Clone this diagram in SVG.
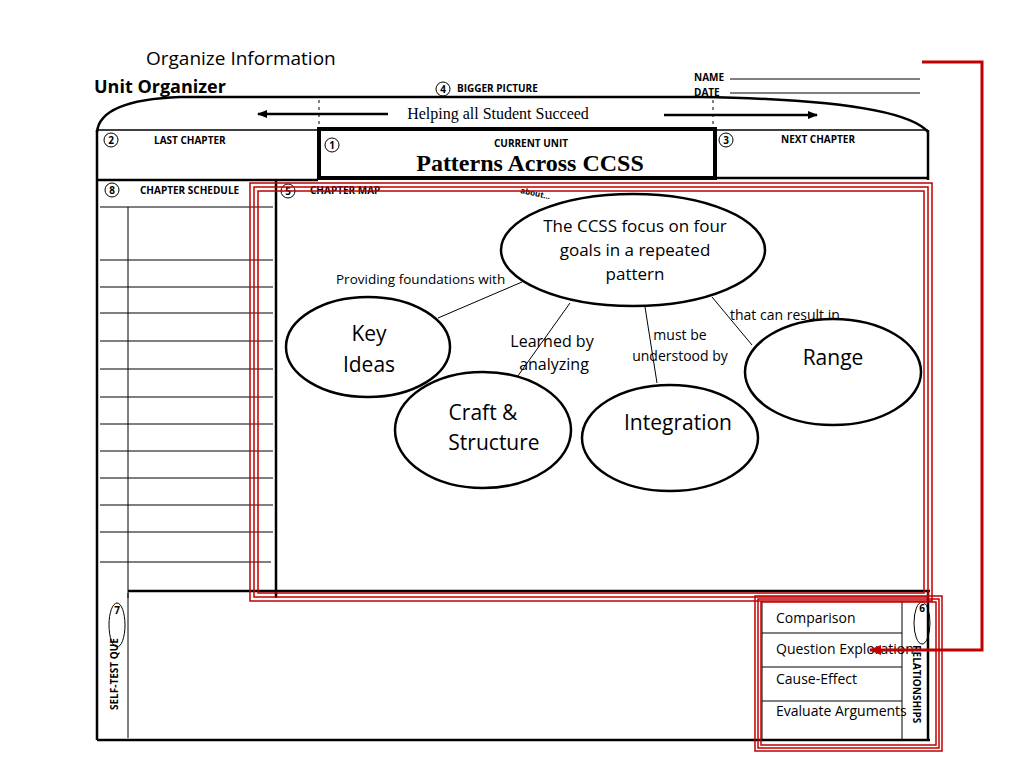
<svg xmlns="http://www.w3.org/2000/svg" width="1024" height="768" viewBox="0 0 1024 768">
<defs>
<style>
.s{font-family:"Open Sans","Liberation Sans",sans-serif;}
.b{font-family:"Open Sans","Liberation Sans",sans-serif;font-weight:bold;font-size:10px;}
.t{font-family:"Liberation Serif",serif;}
.ln{stroke:#000;stroke-width:1.5;fill:none;}
.th{stroke:#000;stroke-width:2.5;fill:none;}
.el{fill:#fff;stroke:#000;stroke-width:2.5;}
.red{fill:none;stroke:#c00000;stroke-width:1.5;}
.cn{stroke:#000;stroke-width:1;fill:none;}
</style>
<marker id="ah" markerWidth="10" markerHeight="8" refX="9" refY="4" orient="auto" markerUnits="userSpaceOnUse"><path d="M0,0 L10,4 L0,8z" fill="#000"/></marker>
<marker id="rh" markerWidth="12" markerHeight="10" refX="11" refY="5" orient="auto" markerUnits="userSpaceOnUse"><path d="M0,0 L12,5 L0,10z" fill="#c00000"/></marker>
</defs>
<rect width="1024" height="768" fill="#fff"/>
<g id="header">
<text x="146" y="65" class="s" font-size="19">Organize Information</text>
<text x="94" y="93" class="s" font-size="18" font-weight="bold">Unit Organizer</text>
<circle cx="443" cy="89" r="7" class="cn"/><text x="443" y="93" class="b" font-size="9" text-anchor="middle">4</text>
<text x="457" y="92" class="b" font-size="9">BIGGER PICTURE</text>
<text x="694" y="81" class="b" font-size="9">NAME</text>
<text x="694" y="96" class="b" font-size="9">DATE</text>
<line x1="730" y1="79" x2="920" y2="79" class="cn"/>
<line x1="730" y1="93" x2="920" y2="93" class="cn"/>
</g>
<g id="frame">
<path d="M97,132 Q100,100 180,97 L700,97 Q900,100 928,132" class="th"/>
<line x1="97" y1="130" x2="928" y2="130" class="ln"/>
<line x1="97" y1="130" x2="97" y2="740" class="th"/>
<line x1="928" y1="130" x2="928" y2="180" class="th"/>
<line x1="716" y1="178" x2="928" y2="178" class="th"/>
<line x1="97" y1="180" x2="318" y2="180" class="th"/>
<line x1="97" y1="740" x2="930" y2="740" class="th"/>
<line x1="128" y1="591" x2="930" y2="591" class="th"/>
<line x1="928" y1="591" x2="928" y2="740" class="th"/>
<line x1="276" y1="180" x2="276" y2="598" class="th"/>
<line x1="319" y1="100" x2="319" y2="128" stroke="#000" stroke-dasharray="3,4"/>
<line x1="713" y1="100" x2="713" y2="128" stroke="#000" stroke-dasharray="3,4"/>
<line x1="388" y1="114" x2="258" y2="114" stroke="#000" stroke-width="2.5" marker-end="url(#ah)"/>
<line x1="664" y1="115" x2="817" y2="115" stroke="#000" stroke-width="2.5" marker-end="url(#ah)"/>
<text x="498" y="119" class="t" font-size="16" text-anchor="middle">Helping all Student Succeed</text>
</g>
<g id="last-chapter">
<circle cx="111" cy="140" r="7" class="cn"/><text x="111" y="144" class="b" font-size="9" text-anchor="middle">2</text>
<text x="154" y="144" class="b" font-size="9">LAST CHAPTER</text>
</g>
<g id="current-unit">
<rect x="319" y="129" width="396" height="49" fill="none" stroke="#000" stroke-width="4"/>
<circle cx="332" cy="145" r="7" class="cn"/><text x="332" y="149" class="b" font-size="9" text-anchor="middle">1</text>
<text x="531" y="147" class="b" font-size="10" text-anchor="middle">CURRENT UNIT</text>
<text x="530" y="171" class="t" font-size="24" font-weight="bold" text-anchor="middle">Patterns Across CCSS</text>
</g>
<g id="next-chapter">
<circle cx="726" cy="140" r="7" class="cn"/><text x="726" y="144" class="b" font-size="9" text-anchor="middle">3</text>
<text x="781" y="143" class="b" font-size="9">NEXT CHAPTER</text>
</g>
<g id="schedule">
<circle cx="112" cy="190" r="7" class="cn"/><text x="112" y="194" class="b" font-size="9" text-anchor="middle">8</text>
<text x="140" y="194" class="b" font-size="9">CHAPTER SCHEDULE</text>
<line x1="128" y1="207" x2="128" y2="598" class="cn"/>
<g class="cn">
<line x1="100" y1="207" x2="273" y2="207"/><line x1="100" y1="260" x2="273" y2="260"/>
<line x1="100" y1="287" x2="273" y2="287"/><line x1="100" y1="313" x2="273" y2="313"/>
<line x1="100" y1="341" x2="273" y2="341"/><line x1="100" y1="369" x2="273" y2="369"/>
<line x1="100" y1="397" x2="273" y2="397"/><line x1="100" y1="424" x2="273" y2="424"/>
<line x1="100" y1="451" x2="273" y2="451"/><line x1="100" y1="478" x2="273" y2="478"/>
<line x1="100" y1="505" x2="273" y2="505"/><line x1="100" y1="532" x2="273" y2="532"/>
<line x1="100" y1="562" x2="271" y2="562"/>
</g>
</g>
<g id="chapter-map-label">
<circle cx="288" cy="191" r="7" class="cn"/><text x="288" y="195" class="b" font-size="9" text-anchor="middle">5</text>
<text x="310" y="194" class="b" font-size="9">CHAPTER MAP</text>
<text x="520" y="193" class="s" font-size="8" font-weight="bold" transform="rotate(12 520 193)">about...</text>
</g>
<g id="connectors" class="cn">
<line x1="438" y1="318" x2="522" y2="282"/>
<line x1="570" y1="303" x2="515" y2="380"/>
<line x1="645" y1="307" x2="657" y2="383"/>
<line x1="712" y1="297" x2="752" y2="345"/>
<line x1="540" y1="288" x2="725" y2="288" stroke-dasharray="4,4"/>
</g>
<g id="labels" class="s" font-size="14">
<text x="336" y="284" font-size="13.5">Providing foundations with</text>
<text x="552" y="347" text-anchor="middle" font-size="16">Learned by</text>
<text x="554" y="370" text-anchor="middle" font-size="16">analyzing</text>
<text x="680" y="340" text-anchor="middle">must be</text>
<text x="680" y="361" text-anchor="middle">understood by</text>
<text x="730" y="320">that can result in</text>
</g>
<g id="n-ccss"><ellipse cx="633" cy="250" rx="132" ry="56" class="el"/>
<text class="s" font-size="17" text-anchor="middle"><tspan x="635" y="232">The CCSS focus on four</tspan><tspan x="635" y="256">goals in a repeated</tspan><tspan x="635" y="280">pattern</tspan></text></g>
<g id="n-key"><ellipse cx="368" cy="347" rx="82" ry="50" class="el"/>
<text class="s" font-size="21" text-anchor="middle"><tspan x="369" y="341">Key</tspan><tspan x="369" y="372">Ideas</tspan></text></g>
<g id="n-craft"><ellipse cx="483" cy="430" rx="88" ry="58" class="el"/>
<text class="s" font-size="21" text-anchor="middle"><tspan x="483" y="420">Craft &amp;</tspan><tspan x="494" y="450">Structure</tspan></text></g>
<g id="n-integration"><ellipse cx="670" cy="438" rx="88" ry="53" class="el"/>
<text x="678" y="430" class="s" font-size="21" text-anchor="middle">Integration</text></g>
<g id="n-range"><ellipse cx="833" cy="372" rx="88" ry="53" class="el"/>
<text x="833" y="365" class="s" font-size="21" text-anchor="middle">Range</text></g>
<g id="self-test">
<ellipse cx="117" cy="625" rx="8" ry="22" class="cn"/>
<text x="117" y="614" class="b" font-size="8" text-anchor="middle">7</text>
<line x1="128" y1="593" x2="128" y2="738" class="cn"/>
<text class="b" font-size="9" transform="translate(118,710) rotate(-90)">SELF-TEST QUE</text>
</g>
<g id="relationships">
<line x1="762" y1="601" x2="762" y2="740" class="cn"/>
<line x1="902" y1="601" x2="902" y2="740" class="cn"/>
<line x1="762" y1="633" x2="902" y2="633" class="cn"/>
<line x1="762" y1="667" x2="902" y2="667" class="cn"/>
<line x1="762" y1="701" x2="902" y2="701" class="cn"/>
<ellipse cx="922" cy="623" rx="8" ry="21" class="cn"/>
<text x="922" y="612" class="b" font-size="8" text-anchor="middle">6</text>
<text x="776" y="623" class="s" font-size="14">Comparison</text>
<text x="776" y="654" class="s" font-size="14">Question  Exploration</text>
<text x="776" y="684" class="s" font-size="14">Cause-Effect</text>
<text x="776" y="716" class="s" font-size="14">Evaluate Arguments</text>
<text class="b" font-size="9" transform="translate(913,645) rotate(90)">RELATIONSHIPS</text>
</g>
<g id="highlights">
<rect x="250" y="183" width="682" height="418" class="red"/>
<rect x="254" y="187" width="674" height="410" class="red"/>
<rect x="258" y="191" width="666" height="402" class="red"/>
<rect x="755" y="596" width="187" height="155" class="red"/>
<rect x="758" y="599" width="181" height="149" class="red"/>
<rect x="761" y="602" width="175" height="143" class="red"/>
<path d="M922,62 L982,62 L982,650 L870,650" fill="none" stroke="#c00000" stroke-width="3" marker-end="url(#rh)"/>
</g>
</svg>
